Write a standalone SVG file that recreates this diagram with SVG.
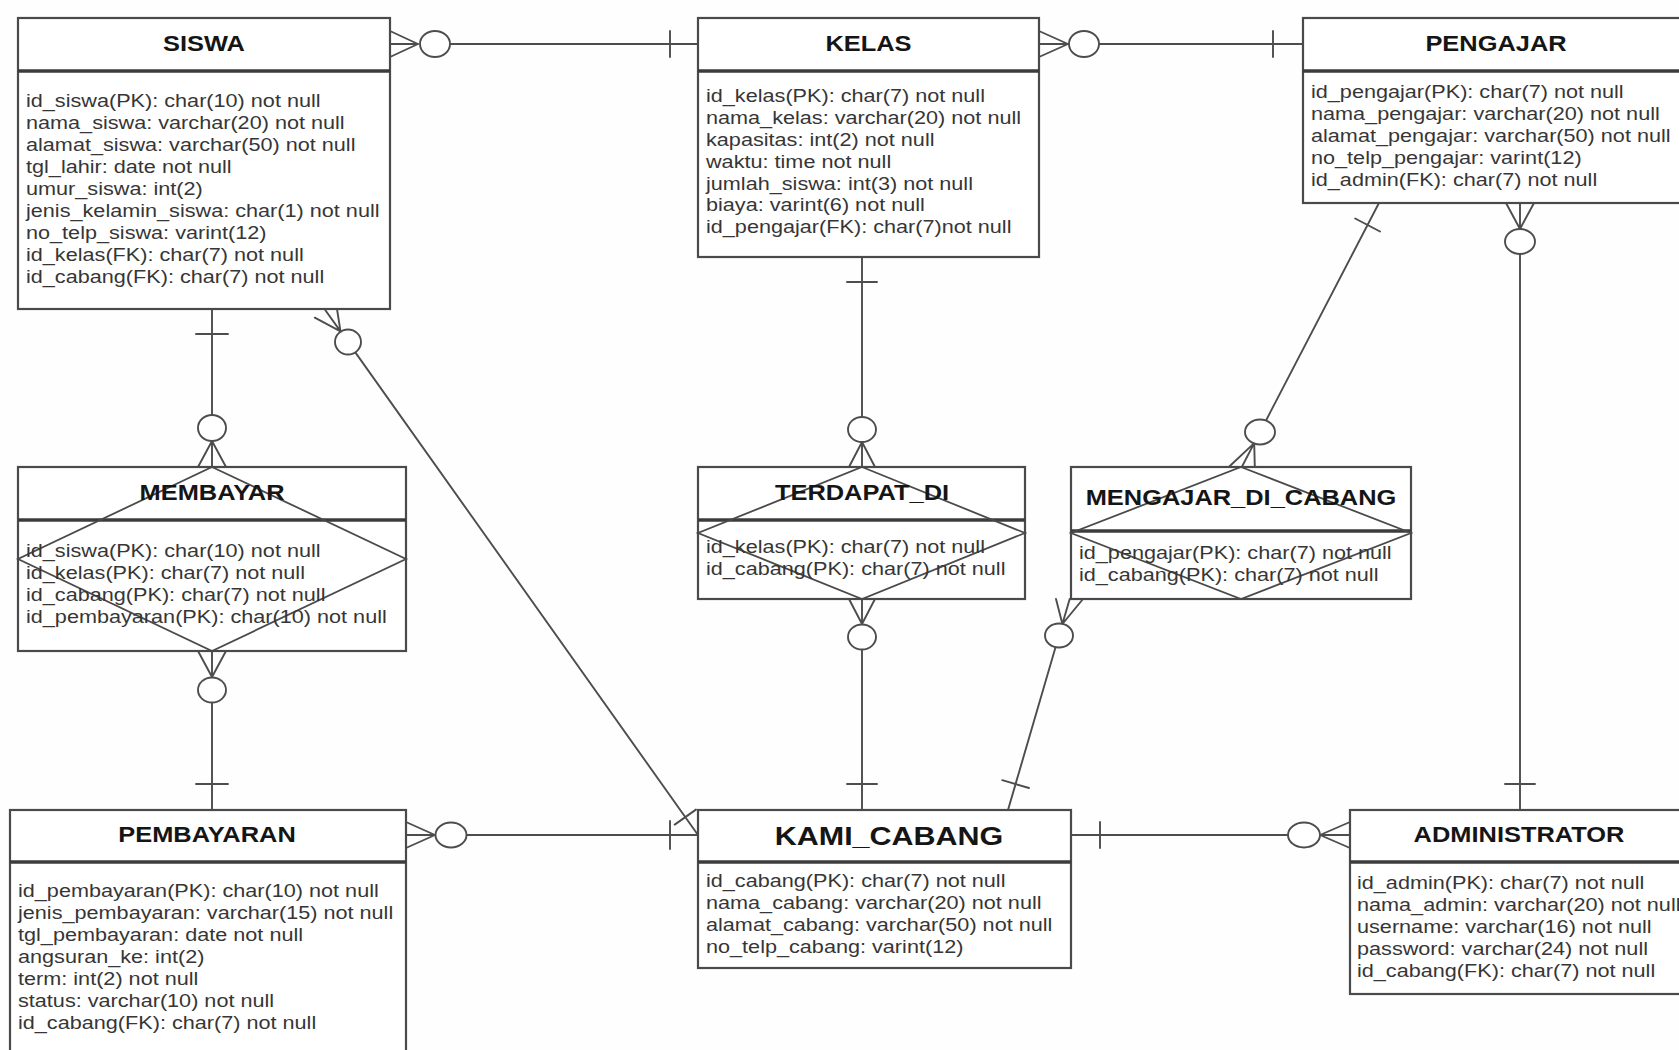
<svg xmlns="http://www.w3.org/2000/svg" width="1679" height="1050" viewBox="0 0 1679 1050">
  <style>
    .box { fill: #ffffff; stroke: #4a4a4a; stroke-width: 2.2; }
    .div { stroke: #3c3c3c; stroke-width: 3.6; fill: none; }
    .dia { fill: none; stroke: #4a4a4a; stroke-width: 1.8; }
    .ln { fill: none; stroke: #4d4d4d; stroke-width: 1.9; stroke-linecap: round; }
    .ring { fill: #ffffff; stroke: #4d4d4d; stroke-width: 1.9; }
    .title { font-family: "Liberation Sans", Arial, sans-serif; font-weight: bold; font-size: 22.5px; fill: #151515; text-anchor: middle; }
    .big { font-size: 26.5px; }
    .attr { font-family: "Liberation Sans", Arial, sans-serif; font-size: 18.5px; fill: #363636; }
  </style>

  <rect x="0" y="0" width="1679" height="1050" fill="#fefefe"/>

  <!-- relationships: crow's foot + ring = zero or many, bar = exactly one -->
  <g id="connectors">
    <!-- SISWA many / KELAS one -->
    <path class="ln" d="M390,31 L418,44 M390,44 L418,44 M390,57 L418,44 M450,44 L698,44 M670,31 L670,57"/>
    <ellipse class="ring" cx="435" cy="44" rx="15" ry="13"/>
    <!-- KELAS many / PENGAJAR one -->
    <path class="ln" d="M1039,31 L1068,44 M1039,44 L1068,44 M1039,57 L1068,44 M1099,44 L1303,44 M1273,31 L1273,57"/>
    <ellipse class="ring" cx="1084" cy="44" rx="15" ry="13"/>
    <!-- SISWA one / MEMBAYAR many -->
    <path class="ln" d="M212,309 L212,415 M196,334 L228,334 M212,441 L198,467 M212,441 L212,467 M212,441 L226,467"/>
    <ellipse class="ring" cx="212" cy="428" rx="14" ry="13"/>
    <!-- MEMBAYAR many / PEMBAYARAN one -->
    <path class="ln" d="M198,651 L212,677 M212,651 L212,677 M226,651 L212,677 M212,702.5 L212,810 M196,784 L228,784"/>
    <ellipse class="ring" cx="212" cy="690" rx="14" ry="12.5"/>
    <!-- SISWA many / KAMI_CABANG one -->
    <path class="ln" d="M336,302.7 L340.5,331.4 M325.4,310.2 L340.5,331.4 M314.8,317.7 L340.5,331.4 M355.5,352.6 L698,835 M695.9,809.6 L674.7,824.6"/>
    <ellipse class="ring" cx="348" cy="342" rx="13" ry="12.5"/>
    <!-- KELAS one / TERDAPAT_DI many -->
    <path class="ln" d="M862,257 L862,417 M847,282 L877,282 M862,442 L849,467 M862,442 L862,467 M862,442 L875,467"/>
    <ellipse class="ring" cx="862" cy="429.5" rx="14" ry="12.5"/>
    <!-- TERDAPAT_DI many / KAMI_CABANG one -->
    <path class="ln" d="M849,599 L862,624 M862,599 L862,624 M875,599 L862,624 M862,649.5 L862,810 M847,784 L877,784"/>
    <ellipse class="ring" cx="862" cy="637" rx="14" ry="12.5"/>
    <!-- PENGAJAR one / MENGAJAR_DI_CABANG many -->
    <path class="ln" d="M1380,201 L1266,420.5 M1380,231.5 L1355.2,218.5 M1254.2,443.1 L1228.8,467 M1254.2,443.1 L1241.8,467 M1254.2,443.1 L1254.8,467"/>
    <ellipse class="ring" cx="1260" cy="432" rx="15" ry="12.5"/>
    <!-- MENGAJAR_DI_CABANG many / KAMI_CABANG one -->
    <path class="ln" d="M1056,599 L1062.4,624 M1069.7,599 L1062.4,624 M1083,599 L1062.4,624 M1055.6,647 L1008,810 M1029,788 L1002.2,780.2"/>
    <ellipse class="ring" cx="1059" cy="635.5" rx="14" ry="12"/>
    <!-- PENGAJAR many / ADMINISTRATOR one -->
    <path class="ln" d="M1506,203 L1520,229 M1520,203 L1520,229 M1534,203 L1520,229 M1520,254 L1520,810 M1505,784 L1535,784"/>
    <ellipse class="ring" cx="1520" cy="241.5" rx="15" ry="12.5"/>
    <!-- PEMBAYARAN many / KAMI_CABANG one -->
    <path class="ln" d="M406,822 L435,835 M406,835 L435,835 M406,848 L435,835 M466.5,835 L698,835 M670,821 L670,849"/>
    <ellipse class="ring" cx="451" cy="835" rx="15.5" ry="12.5"/>
    <!-- KAMI_CABANG one / ADMINISTRATOR many -->
    <path class="ln" d="M1071,835 L1288,835 M1100,822 L1100,848 M1320,835 L1350,822 M1320,835 L1350,835 M1320,835 L1350,848"/>
    <ellipse class="ring" cx="1304" cy="835" rx="16" ry="12.5"/>
  </g>

  <!-- entity: SISWA -->
  <g id="siswa">
    <rect class="box" x="18" y="18" width="372" height="291"/>
    <line class="div" x1="18" y1="71" x2="390" y2="71"/>
    <g transform="translate(204,0) scale(1.13,1)"><text class="title" x="0" y="51">SISWA</text></g>
    <g transform="translate(26,0) scale(1.17,1)">
      <text class="attr" y="107.5">
        <tspan x="0">id_siswa(PK): char(10) not null</tspan>
        <tspan x="0" dy="21.9">nama_siswa: varchar(20) not null</tspan>
        <tspan x="0" dy="21.9">alamat_siswa: varchar(50) not null</tspan>
        <tspan x="0" dy="21.9">tgl_lahir: date not null</tspan>
        <tspan x="0" dy="21.9">umur_siswa: int(2)</tspan>
        <tspan x="0" dy="21.9">jenis_kelamin_siswa: char(1) not null</tspan>
        <tspan x="0" dy="21.9">no_telp_siswa: varint(12)</tspan>
        <tspan x="0" dy="21.9">id_kelas(FK): char(7) not null</tspan>
        <tspan x="0" dy="21.9">id_cabang(FK): char(7) not null</tspan>
      </text>
    </g>
  </g>

  <!-- entity: KELAS -->
  <g id="kelas">
    <rect class="box" x="698" y="18" width="341" height="239"/>
    <line class="div" x1="698" y1="71" x2="1039" y2="71"/>
    <g transform="translate(868.5,0) scale(1.13,1)"><text class="title" x="0" y="51.5">KELAS</text></g>
    <g transform="translate(706,0) scale(1.17,1)">
      <text class="attr" y="102">
        <tspan x="0">id_kelas(PK): char(7) not null</tspan>
        <tspan x="0" dy="21.9">nama_kelas: varchar(20) not null</tspan>
        <tspan x="0" dy="21.9">kapasitas: int(2) not null</tspan>
        <tspan x="0" dy="21.9">waktu: time not null</tspan>
        <tspan x="0" dy="21.9">jumlah_siswa: int(3) not null</tspan>
        <tspan x="0" dy="21.9">biaya: varint(6) not null</tspan>
        <tspan x="0" dy="21.9">id_pengajar(FK): char(7)not null</tspan>
      </text>
    </g>
  </g>

  <!-- entity: PENGAJAR -->
  <g id="pengajar">
    <rect class="box" x="1303" y="18" width="390" height="185"/>
    <line class="div" x1="1303" y1="71" x2="1693" y2="71"/>
    <g transform="translate(1496,0) scale(1.13,1)"><text class="title" x="0" y="51.5">PENGAJAR</text></g>
    <g transform="translate(1311,0) scale(1.17,1)">
      <text class="attr" y="98">
        <tspan x="0">id_pengajar(PK): char(7) not null</tspan>
        <tspan x="0" dy="21.9">nama_pengajar: varchar(20) not null</tspan>
        <tspan x="0" dy="21.9">alamat_pengajar: varchar(50) not null</tspan>
        <tspan x="0" dy="21.9">no_telp_pengajar: varint(12)</tspan>
        <tspan x="0" dy="21.9">id_admin(FK): char(7) not null</tspan>
      </text>
    </g>
  </g>

  <!-- associative entity: MEMBAYAR -->
  <g id="membayar">
    <rect class="box" x="18" y="467" width="388" height="184"/>
    <line class="div" x1="18" y1="520" x2="406" y2="520"/>
    <polygon class="dia" points="212,467 406,559 212,651 18,559"/>
    <g transform="translate(212,0) scale(1.13,1)"><text class="title" x="0" y="500">MEMBAYAR</text></g>
    <g transform="translate(26,0) scale(1.17,1)">
      <text class="attr" y="557">
        <tspan x="0">id_siswa(PK): char(10) not null</tspan>
        <tspan x="0" dy="21.9">id_kelas(PK): char(7) not null</tspan>
        <tspan x="0" dy="21.9">id_cabang(PK): char(7) not null</tspan>
        <tspan x="0" dy="21.9">id_pembayaran(PK): char(10) not null</tspan>
      </text>
    </g>
  </g>

  <!-- associative entity: TERDAPAT_DI -->
  <g id="terdapat_di">
    <rect class="box" x="698" y="467" width="327" height="132"/>
    <line class="div" x1="698" y1="520" x2="1025" y2="520"/>
    <polygon class="dia" points="862,467 1025,533 862,599 698,533"/>
    <g transform="translate(862,0) scale(1.13,1)"><text class="title" x="0" y="500">TERDAPAT_DI</text></g>
    <g transform="translate(706,0) scale(1.17,1)">
      <text class="attr" y="553">
        <tspan x="0">id_kelas(PK): char(7) not null</tspan>
        <tspan x="0" dy="21.9">id_cabang(PK): char(7) not null</tspan>
      </text>
    </g>
  </g>

  <!-- associative entity: MENGAJAR_DI_CABANG -->
  <g id="mengajar_di_cabang">
    <rect class="box" x="1071" y="467" width="340" height="132"/>
    <line class="div" x1="1071" y1="531" x2="1411" y2="531"/>
    <polygon class="dia" points="1241,467 1411,533 1241,599 1071,533"/>
    <g transform="translate(1241,0) scale(1.13,1)"><text class="title" x="0" y="505">MENGAJAR_DI_CABANG</text></g>
    <g transform="translate(1079,0) scale(1.17,1)">
      <text class="attr" y="559">
        <tspan x="0">id_pengajar(PK): char(7) not null</tspan>
        <tspan x="0" dy="21.9">id_cabang(PK): char(7) not null</tspan>
      </text>
    </g>
  </g>

  <!-- entity: PEMBAYARAN -->
  <g id="pembayaran">
    <rect class="box" x="10" y="810" width="396" height="260"/>
    <line class="div" x1="10" y1="862" x2="406" y2="862"/>
    <g transform="translate(207,0) scale(1.13,1)"><text class="title" x="0" y="842">PEMBAYARAN</text></g>
    <g transform="translate(18,0) scale(1.17,1)">
      <text class="attr" y="897.5">
        <tspan x="0">id_pembayaran(PK): char(10) not null</tspan>
        <tspan x="0" dy="21.9">jenis_pembayaran: varchar(15) not null</tspan>
        <tspan x="0" dy="21.9">tgl_pembayaran: date not null</tspan>
        <tspan x="0" dy="21.9">angsuran_ke: int(2)</tspan>
        <tspan x="0" dy="21.9">term: int(2) not null</tspan>
        <tspan x="0" dy="21.9">status: varchar(10) not null</tspan>
        <tspan x="0" dy="21.9">id_cabang(FK): char(7) not null</tspan>
      </text>
    </g>
  </g>

  <!-- entity: KAMI_CABANG -->
  <g id="kami_cabang">
    <rect class="box" x="698" y="810" width="373" height="158"/>
    <line class="div" x1="698" y1="862" x2="1071" y2="862"/>
    <g transform="translate(889,0) scale(1.15,1)"><text class="title big" x="0" y="845">KAMI_CABANG</text></g>
    <g transform="translate(706,0) scale(1.17,1)">
      <text class="attr" y="887">
        <tspan x="0">id_cabang(PK): char(7) not null</tspan>
        <tspan x="0" dy="21.9">nama_cabang: varchar(20) not null</tspan>
        <tspan x="0" dy="21.9">alamat_cabang: varchar(50) not null</tspan>
        <tspan x="0" dy="21.9">no_telp_cabang: varint(12)</tspan>
      </text>
    </g>
  </g>

  <!-- entity: ADMINISTRATOR -->
  <g id="administrator">
    <rect class="box" x="1350" y="810" width="340" height="184"/>
    <line class="div" x1="1350" y1="862" x2="1690" y2="862"/>
    <g transform="translate(1519,0) scale(1.13,1)"><text class="title" x="0" y="842">ADMINISTRATOR</text></g>
    <g transform="translate(1357,0) scale(1.17,1)">
      <text class="attr" y="889">
        <tspan x="0">id_admin(PK): char(7) not null</tspan>
        <tspan x="0" dy="21.9">nama_admin: varchar(20) not null</tspan>
        <tspan x="0" dy="21.9">username: varchar(16) not null</tspan>
        <tspan x="0" dy="21.9">password: varchar(24) not null</tspan>
        <tspan x="0" dy="21.9">id_cabang(FK): char(7) not null</tspan>
      </text>
    </g>
  </g>
</svg>
